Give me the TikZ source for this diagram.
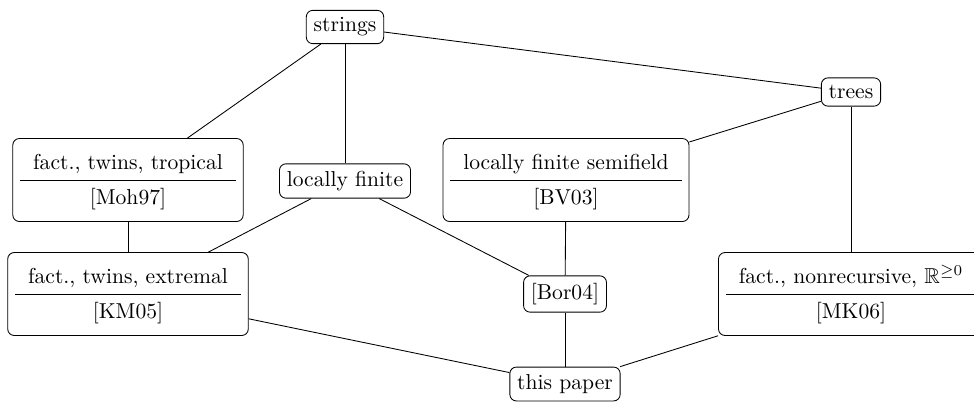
\documentclass[tikz,border=0pt]{standalone}
\usepackage{amsmath}
\usepackage{amssymb}
\usepackage{tikz}
\renewcommand{\arraystretch}{1.3}
\newcommand{\twolab}[2]{\begin{tabular}{c}#1\\\hline #2\end{tabular}}

\begin{document}
\begin{tikzpicture}[x=0.463pt,y=-0.463pt,
    box/.style={draw,rounded corners=3pt,inner sep=3.4pt}]

    \useasboundingbox (0,0) rectangle (974,401);

    \node[box] (S) at (345,27) {strings};
    \node[box] (T) at (851,92) {trees};
    \node[box] (Moh) at (128,180) {\twolab{fact., twins, tropical}{[Moh97]}};
    \node[box] (LF) at (345,181) {locally finite};
    \node[box] (BV) at (566,180) {\twolab{locally finite semifield}{[BV03]}};
    \node[box] (KM) at (128,294) {\twolab{fact., twins, extremal}{[KM05]}};
    \node[box] (Bor) at (565,294) {[Bor04]};
    \node[box] (MK) at (851,294) {\twolab{fact., nonrecursive, $\mathbb{R}^{\geq 0}$}{[MK06]}};
    \node[box] (P) at (565,384) {this paper};

    \draw (S) edge (Moh) edge (LF) edge (T);
    \draw (T) edge (BV) edge (MK);
    \draw (Moh) edge (KM);
    \draw (LF) edge (KM) edge (Bor);
    \draw (BV) edge (Bor);
    \draw (P) edge (KM) edge (Bor) edge (MK);
\end{tikzpicture}
\end{document}
